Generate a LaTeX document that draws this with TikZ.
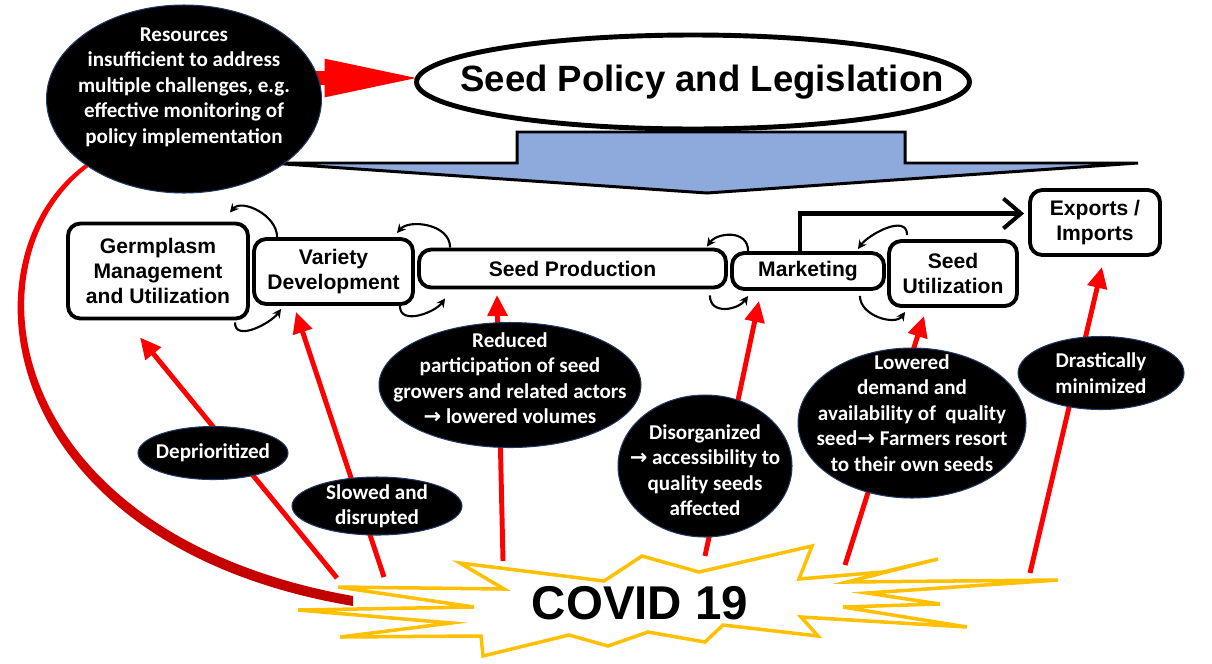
\documentclass[tikz,border=0pt]{standalone}
\usepackage{fontspec}
\usepackage{tikz}
\usetikzlibrary{arrows.meta}
\usetikzlibrary{backgrounds}
\usetikzlibrary{calc}
\usetikzlibrary{shapes.geometric}
\usetikzlibrary{positioning}

\newfontfamily\boxfont{Liberation Sans}
\newfontfamily\ovalfont{Carlito}
\newfontfamily\symbfont{DejaVu Sans}
\newcommand{\thento}{{\symbfont\bfseries →}}

\definecolor{policyblue}{RGB}{142,169,219}
\definecolor{flashgold}{RGB}{255,192,0}
\definecolor{ovalrim}{RGB}{32,56,100}
\definecolor{curvered}{RGB}{192,0,0}

\begin{document}
\begin{tikzpicture}[x=0.02cm, y=-0.02cm,
	stage/.style={draw, line width=2.2pt, rounded corners=7pt, fill=white, align=center, inner sep=0pt,
		font=\boxfont\bfseries\fontsize{12pt}{14.2pt}\selectfont},
	oval/.style={ellipse, fill=black, draw=ovalrim, line width=0.6pt, inner sep=0pt},
	ovaltext/.style={text=white, align=center, inner sep=0pt,
		font=\ovalfont\bfseries\fontsize{12pt}{14.5pt}\selectfont},
	hit/.style={red, line width=2.8pt, -{Triangle[length=12pt,width=11pt]}},
	cycarrow/.style={line width=1.2pt, -{Stealth[length=5pt,width=5pt]}}]
	\useasboundingbox (0,0) rectangle (1212,663);

	\node[ellipse, draw, line width=2.8pt, fill=white, minimum width=11.06cm, minimum height=1.88cm, inner sep=0pt,
		label={[font=\boxfont\bfseries\fontsize{20.8pt}{24pt}\selectfont, xshift=0.18cm]center:Seed Policy and Legislation}] (policy) at (693,82) {};

	\begin{scope}[every node/.style={stage}]
		\node[minimum width=3.6cm, minimum height=1.9cm] (germ) at (158,271) {Germplasm\\Management\\and Utilization};
		\node[minimum width=3.18cm, minimum height=1.3cm] (vardev) at (333.5,271.5) {Variety\\Development};
		\node[minimum width=6.14cm, minimum height=0.76cm] (seedprod) at (572.5,268.5) {Seed Production};
		\node[minimum width=3.04cm, minimum height=0.72cm] (market) at (808,271) {Marketing};
		\node[minimum width=2.56cm, minimum height=1.3cm] (seeduse) at (953,273.5) {Seed\\Utilization};
		\node[minimum width=2.6cm, minimum height=1.3cm] (trade) at (1095,222.5) {Exports /\\Imports};
	\end{scope}

	\begin{scope}[every node/.style={oval}]
		\node[minimum width=5.5cm, minimum height=3.76cm,
			label={[ovaltext, yshift=0.24cm]center:{Resources\\insufficient to address\\multiple challenges, e.g.\\effective monitoring of\\policy implementation}}] (resources) at (184,99) {};
		\node[minimum width=3cm, minimum height=1.06cm,
			label={[ovaltext]center:Deprioritized}] (deprio) at (213,453) {};
		\node[minimum width=3.4cm, minimum height=1.16cm,
			label={[ovaltext]center:{Slowed and\\disrupted}}] (slowed) at (377,506) {};
		\node[minimum width=5.24cm, minimum height=2.5cm,
			label={[ovaltext, yshift=0.14cm]center:{Reduced\\participation of seed\\growers and related actors\\\thento{} lowered volumes}}] (reduced) at (510,385) {};
		\node[minimum width=3.48cm, minimum height=2.84cm,
			label={[ovaltext, yshift=-0.08cm]center:{Disorganized\\\thento{} accessibility to\\quality seeds\\affected}}] (disorg) at (705,466) {};
		\node[minimum width=4.56cm, minimum height=3cm,
			label={[ovaltext, yshift=0.2cm]center:{Lowered\\demand and\\availability of\ \ quality\\seed\thento{} Farmers resort\\to their own seeds}}] (lowered) at (912,423) {};
		\node[minimum width=3.32cm, minimum height=1.46cm,
			label={[ovaltext]center:{Drastically\\minimized}}] (drastic) at (1101,373) {};
	\end{scope}

	\node[font=\boxfont\bfseries\fontsize{27pt}{30pt}\selectfont] (covid) at (640,603) {COVID 19};

	\begin{scope}[on background layer]
		\filldraw[fill=policyblue, line width=1.7pt] (517,132) -- (905,132) -- (905,163) -- (1138,163) -- (707,193) -- (270,163) -- (517,163) -- cycle;
		\draw[red, line width=8pt, -{Triangle[length=52pt,width=22pt,line width=0pt]}] ($(resources.center |- policy.west)+(0,-4)$) -- ($(policy.west)+(2,-4)$);

		\coordinate (h0) at (353,601);
		\shade[top color=red, bottom color=curvered] ($(resources.south west)+(-2,-1)$) .. controls (-44,260) and (-4,546) .. ($(h0)+(0,5)$)
			-- ($(h0)+(0,-5)$) .. controls (4,534) and (-36,262) .. ($(resources.south west)+(2,1)$) -- cycle;

		\coordinate (h1) at (337,578);
		\coordinate (h2) at (384,577);
		\coordinate (h3) at (503,561);
		\coordinate (h4) at (705,556);
		\coordinate (h5) at (845,565);
		\coordinate (h6) at (1030,573);
		\draw[hit] (h1) -- ($(germ.south)+(-18,17)$);
		\draw[hit] (h2) -- ($(vardev.south)+(-37.5,6)$);
		\draw[hit] (h3) -- ($(seedprod.south)+(-75.5,5.5)$);
		\draw[hit] (h4) -- ($(market.south)+(-49,10)$);
		\draw[hit] (h5) -- ($(seeduse.south)+(-29,8)$);
		\draw[hit] (h6) -- ($(trade.south)+(7,10)$);

		\filldraw[draw=flashgold, fill=white, line width=2pt] (460,563) -- (604,581) -- (642,556) -- (699,572) -- (812,546) -- (799,579)
			-- (883,572) -- (938,559) -- (847,582) -- (1058,580) -- (867,593) -- (940,604) -- (843,607) -- (967,627)
			-- (801,617) -- (818,636) -- (723,625) -- (705,642) -- (648,632) -- (608,646) -- (569,635) -- (483,656)
			-- (481,636) -- (340,637) -- (451,623) -- (298,610) -- (474,607) -- (338,587) -- (504,589) -- cycle;
	\end{scope}

	\draw[cycarrow] ($(vardev.north west)+(25,0)$) .. controls +(0,-22) and +(12,-14) .. ($(germ.north east)+(-20,-9)$);
	\draw[cycarrow] ($(germ.south east)+(-15,2)$) .. controls +(0,20) and +(-10,14) .. ($(vardev.south west)+(29,3)$);
	\draw[cycarrow] ($(seedprod.north west)+(33,0)$) .. controls +(0,-24) and +(12,-14) .. ($(vardev.north east)+(-18,-4)$);
	\draw[cycarrow] ($(vardev.south east)+(-15,0)$) .. controls +(0,20) and +(-10,14) .. ($(seedprod.south west)+(28,9)$);
	\draw[cycarrow] ($(market.north west)+(18,0)$) .. controls +(0,-22) and +(10,-14) .. ($(seedprod.north east)+(-21,-1)$);
	\draw[cycarrow] ($(seedprod.south east)+(-18,6)$) .. controls +(0,20) and +(-10,14) .. ($(market.south west)+(18,5)$);
	\draw[cycarrow] ($(seeduse.north west)+(20,-4)$) .. controls +(0,-22) and +(10,-14) .. ($(market.north east)+(-28,-2)$);
	\draw[cycarrow] ($(market.south east)+(-26,5)$) .. controls +(0,20) and +(-10,14) .. ($(seeduse.south west)+(18,4)$);

	\draw[line width=2.3pt, -{Straight Barb[length=10pt,width=17pt]}] ($(market.north)+(-8,0)$) |- ($(trade.west)+(-4,-9)$);
\end{tikzpicture}
\end{document}
